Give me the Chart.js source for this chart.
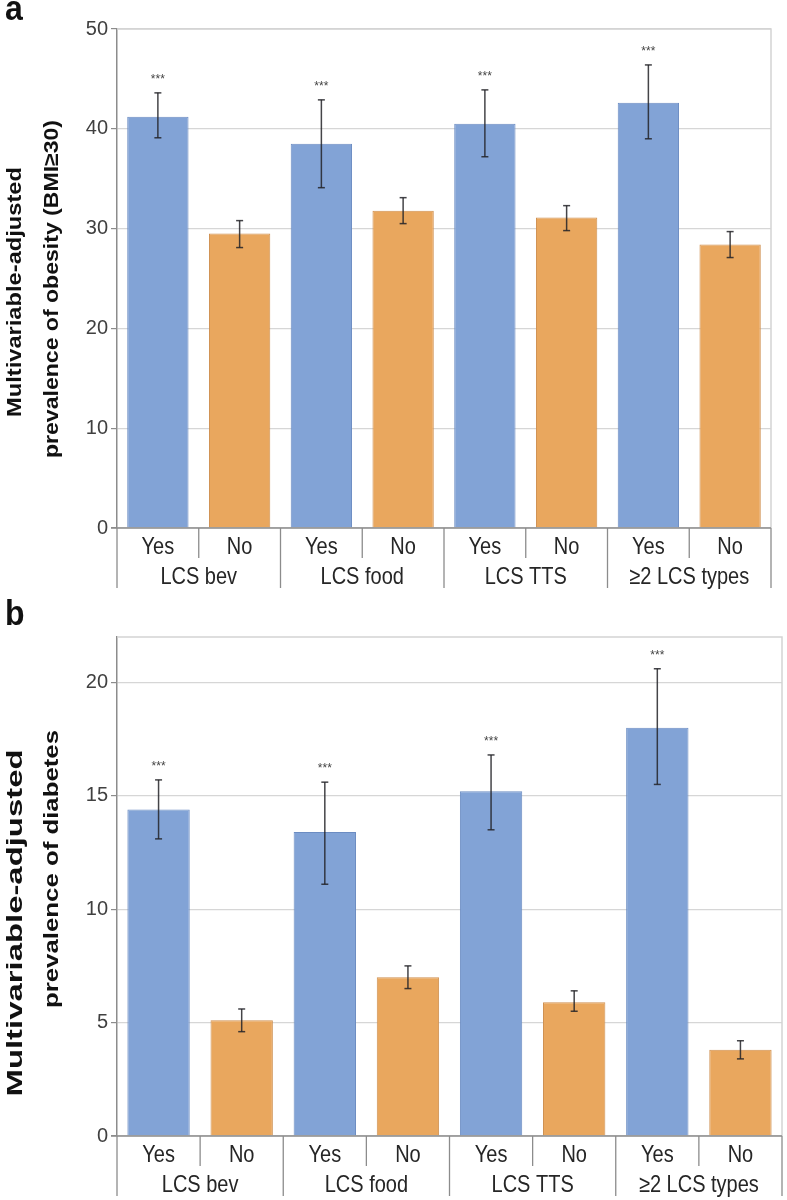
<!DOCTYPE html>
<html lang="en">
<head>
<meta charset="UTF-8">
<title>Multivariable-adjusted prevalence of obesity and diabetes</title>
<script src="https://cdn.jsdelivr.net/npm/chart.js"></script>
<style>
body { margin: 0; background: #fff; }
#wrap { position: relative; width: 787px; height: 1200px; }
.panel { position: absolute; left: 0; width: 787px; }
#panelA { top: 0; height: 600px; }
#panelB { top: 590px; height: 610px; }
</style>
</head>
<body>
<div id="wrap">
  <div class="panel" id="panelA"><canvas id="chartA"></canvas></div>
  <div class="panel" id="panelB"><canvas id="chartB"></canvas></div>
</div>
<script>
// categories
const answers = ['Yes', 'No', 'Yes', 'No', 'Yes', 'No', 'Yes', 'No'];
const groups = ['LCS bev', 'LCS food', 'LCS TTS', '≥2 LCS types'];
const stars = ['***', '', '***', '', '***', '', '***', ''];

// panel a - obesity (BMI>=30)
const obesity = [41.2, 29.5, 38.5, 31.8, 40.5, 31.1, 42.6, 28.4];
const obesityLow = [39.1, 28.1, 34.1, 30.5, 37.2, 29.8, 39.0, 27.1];
const obesityHigh = [43.6, 30.8, 42.9, 33.1, 43.9, 32.3, 46.4, 29.7];
const obesityTicks = [0, 10, 20, 30, 40, 50];

// panel b - diabetes
const diabetes = [14.4, 5.1, 13.4, 7.0, 15.2, 5.9, 18.0, 3.8];
const diabetesLow = [13.1, 4.6, 11.1, 6.5, 13.5, 5.5, 15.5, 3.4];
const diabetesHigh = [15.7, 5.6, 15.6, 7.5, 16.8, 6.4, 20.6, 4.2];
const diabetesTicks = [0, 5, 10, 15, 20];

const FONT = "'Liberation Sans', Arial, sans-serif";
const BLUE = '#82a3d6', BLUE_EDGE = '#6b8cc2';
const ORANGE = '#e9a75e', ORANGE_EDGE = '#cf9050';
const AXIS = '#8c8c8c';

// rotated text, stretched to a given length
function vText(ctx, text, cx, cy, font, len) {
    ctx.save();
    ctx.font = font;
    const w = ctx.measureText(text).width;
    ctx.translate(cx, cy);
    ctx.rotate(-Math.PI / 2);
    ctx.scale(len / w, 1);
    ctx.textAlign = 'center';
    ctx.textBaseline = 'middle';
    ctx.fillText(text, 0, 0);
    ctx.restore();
}

// the source figure is a bit taller than wide, so labels get a small vertical stretch
function hText(ctx, text, cx, cy, sy) {
    ctx.save();
    ctx.translate(cx, cy);
    ctx.scale(1, sy);
    ctx.fillText(text, 0, 0);
    ctx.restore();
}

function line(ctx, x1, y1, x2, y2) {
    ctx.beginPath();
    ctx.moveTo(x1, y1);
    ctx.lineTo(x2, y2);
    ctx.stroke();
}

function makeExtras(cfg) {
    return {
        id: 'extras',
        afterDatasetsDraw(chart) {
            const ctx = chart.ctx, x = chart.scales.x, y = chart.scales.y, a = chart.chartArea;
            ctx.save();
            // plot frame (top + right)
            ctx.strokeStyle = '#d4d4d4';
            ctx.lineWidth = 1.5;
            ctx.beginPath();
            ctx.moveTo(a.left, a.top);
            ctx.lineTo(a.right, a.top);
            ctx.lineTo(a.right, a.bottom);
            ctx.stroke();

            // error bars + significance
            ctx.strokeStyle = 'rgba(35,35,40,0.85)';
            ctx.lineWidth = 1.5;
            cfg.low.forEach((lo, i) => {
                const px = x.getPixelForValue(i);
                const y1 = y.getPixelForValue(lo), y2 = y.getPixelForValue(cfg.high[i]);
                line(ctx, px, y1, px, y2);
                line(ctx, px - 3.5, y1, px + 3.5, y1);
                line(ctx, px - 3.5, y2, px + 3.5, y2);
                if (stars[i]) {
                    ctx.fillStyle = '#444';
                    ctx.font = '12px ' + FONT;
                    ctx.textAlign = 'center';
                    ctx.textBaseline = 'middle';
                    ctx.fillText(stars[i], px, y2 - 13);
                }
            });
            ctx.restore();
        },
        afterDraw(chart) {
            const ctx = chart.ctx, x = chart.scales.x, a = chart.chartArea;
            const cb = a.bottom;
            ctx.save();
            ctx.strokeStyle = AXIS;
            ctx.lineWidth = 1.3;
            line(ctx, a.left - 6, cb, a.right, cb);
            for (let i = 0; i <= answers.length; i++) {
                let px;
                if (i === 0) px = a.left;
                else if (i === answers.length) px = a.right;
                else px = (x.getPixelForValue(i - 1) + x.getPixelForValue(i)) / 2;
                line(ctx, px, cb, px, cb + (i % 2 === 0 ? 60 : 30));
            }
            ctx.fillStyle = '#262626';
            ctx.font = '20px ' + FONT;
            ctx.textAlign = 'center';
            ctx.textBaseline = 'middle';
            answers.forEach((t, i) => hText(ctx, t, x.getPixelForValue(i), cb + 19, 1.2));
            groups.forEach((g, k) => {
                const gx = (x.getPixelForValue(2 * k) + x.getPixelForValue(2 * k + 1)) / 2;
                hText(ctx, g, gx, cb + 49, 1.2);
            });

            // y axis title
            ctx.fillStyle = '#111';
            cfg.title.forEach(t => vText(ctx, t.text, t.x, t.y, 'bold ' + t.size + 'px ' + FONT, t.len));

            // panel letter
            ctx.font = 'bold 32px ' + FONT;
            ctx.textAlign = 'left';
            ctx.textBaseline = 'alphabetic';
            hText(ctx, cfg.letter, 5, cfg.letterY, 1.1);
            ctx.restore();
        }
    };
}

function makeChart(id, cfg) {
    return new Chart(document.getElementById(id), {
        type: 'bar',
        data: {
            labels: answers,
            datasets: [{
                data: cfg.values,
                backgroundColor: answers.map((_, i) => i % 2 ? ORANGE : BLUE),
                borderColor: answers.map((_, i) => i % 2 ? ORANGE_EDGE : BLUE_EDGE),
                borderWidth: 1,
                barPercentage: 0.75,
                categoryPercentage: 1
            }]
        },
        options: {
            responsive: true,
            maintainAspectRatio: false,
            animation: false,
            layout: { padding: cfg.padding },
            plugins: { legend: { display: false }, tooltip: { enabled: false } },
            scales: {
                x: { display: false },
                y: {
                    min: 0,
                    max: cfg.max,
                    afterBuildTicks: s => { s.ticks = cfg.ticks.map(v => ({ value: v })); },
                    afterFit: s => { s.width = cfg.axisWidth; },
                    ticks: { font: { family: FONT, size: 20 }, color: '#404040', padding: 3 },
                    grid: { color: '#d6d6d6', lineWidth: 1.2, tickLength: 6, tickColor: AXIS },
                    border: { color: AXIS, width: 1.5 }
                }
            }
        },
        plugins: [makeExtras(cfg)]
    });
}

makeChart('chartA', {
    values: obesity, low: obesityLow, high: obesityHigh,
    ticks: obesityTicks, max: 50,
    padding: { top: 29, right: 16, bottom: 72, left: 0 },
    axisWidth: 117,
    letter: 'a', letterY: 20,
    title: [
        { text: 'Multivariable-adjusted', x: 15, y: 292, size: 21, len: 250 },
        { text: 'prevalence of obesity (BMI≥30)', x: 52, y: 289, size: 21, len: 338 }
    ]
});

makeChart('chartB', {
    values: diabetes, low: diabetesLow, high: diabetesHigh,
    ticks: diabetesTicks, max: 22,
    padding: { top: 47, right: 5, bottom: 64, left: 0 },
    axisWidth: 117,
    letter: 'b', letterY: 35,
    title: [
        { text: 'Multivariable-adjusted', x: 16, y: 333, size: 22, len: 347 },
        { text: 'prevalence of diabetes', x: 52, y: 279, size: 21, len: 278 }
    ]
});
</script>
</body>
</html>
